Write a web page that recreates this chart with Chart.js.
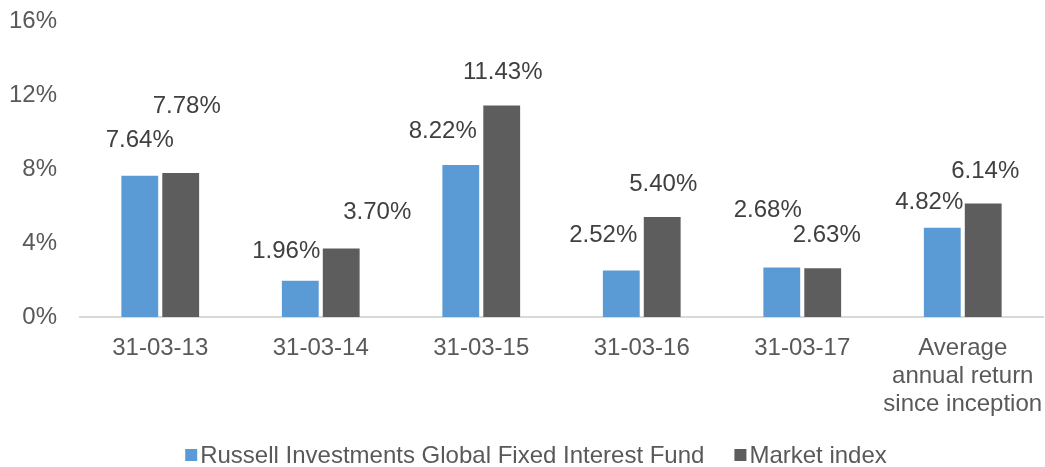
<!DOCTYPE html>
<html>
<head>
<meta charset="utf-8">
<script src="https://cdn.jsdelivr.net/npm/chart.js@4.4.0/dist/chart.umd.min.js"></script>
<style>
  html, body { margin: 0; padding: 0; background: #fff; }
  #wrap { width: 1045px; height: 467px; }
</style>
</head>
<body>
<div id="wrap"><canvas id="myChart" width="1045" height="467"></canvas></div>
<script>
const categories = ["31-03-13", "31-03-14", "31-03-15", "31-03-16", "31-03-17", ["Average", "annual return", "since inception"]];
const fundValues = [7.64, 1.96, 8.22, 2.52, 2.68, 4.82];
const marketValues = [7.78, 3.70, 11.43, 5.40, 2.63, 6.14];
const seriesNames = ["Russell Investments Global Fixed Interest Fund", "Market index"];
const yTicks = [0, 4, 8, 12, 16];

const FONT = "'Liberation Sans', Arial, sans-serif";

// label nudges (dx, dy from bar top) - labels in the original were dragged around by hand
const labelNudge = [
  [[0, -35], [6, -67]],
  [[-14, -29], [36, -36]],
  [[-18, -34], [1, -33]],
  [[-18, -35], [1, -33]],
  [[-14, -57], [4, -33]],
  [[-13, -25], [2, -32]]
];

const valueLabels = {
  id: "valueLabels",
  afterDatasetsDraw(chart) {
    const { ctx } = chart;
    ctx.save();
    ctx.font = "24px " + FONT;
    ctx.fillStyle = "#404040";
    ctx.textAlign = "center";
    ctx.textBaseline = "middle";
    chart.data.datasets.forEach((ds, di) => {
      chart.getDatasetMeta(di).data.forEach((bar, i) => {
        const n = labelNudge[i][di];
        ctx.fillText(ds.data[i].toFixed(2) + "%", bar.x + n[0], bar.y + n[1]);
      });
    });
    ctx.restore();
  }
};

// excel style legend: small square, text right next to it
const bottomLegend = {
  id: "bottomLegend",
  afterDraw(chart) {
    const { ctx } = chart;
    const centerX = 536, y = 455, box = 12, gap = 3, spacing = 30;
    ctx.save();
    ctx.font = "24px " + FONT;
    ctx.textBaseline = "middle";
    ctx.textAlign = "left";
    const items = chart.data.datasets.map(ds => ({ text: ds.label, color: ds.backgroundColor, w: ctx.measureText(ds.label).width }));
    let total = items.reduce((s, it) => s + box + gap + it.w, 0) + spacing * (items.length - 1);
    let x = centerX - total / 2;
    items.forEach(it => {
      ctx.fillStyle = it.color;
      ctx.fillRect(x, y - box / 2, box, box);
      x += box + gap;
      ctx.fillStyle = "#595959";
      ctx.fillText(it.text, x, y + 1);
      x += it.w + spacing;
    });
    ctx.restore();
  }
};

new Chart(document.getElementById("myChart"), {
  type: "bar",
  data: {
    labels: categories,
    datasets: [
      { label: seriesNames[0], data: fundValues, backgroundColor: "#5B9BD5" },
      { label: seriesNames[1], data: marketValues, backgroundColor: "#5D5D5D" }
    ]
  },
  options: {
    responsive: false,
    animation: false,
    layout: { padding: { top: 21, right: 2, left: 0, bottom: 0 } },
    datasets: { bar: { categoryPercentage: 0.51, barPercentage: 0.9 } },
    scales: {
      x: {
        afterFit: (axis) => { axis.height = 150; axis.paddingRight = 0; axis.paddingLeft = 0; },
        grid: { display: false },
        border: { display: true, color: "#D9D9D9", width: 2 },
        ticks: { color: "#595959", font: { family: FONT, size: 24, lineHeight: 1.15 }, maxRotation: 0, autoSkip: false, padding: 10 }
      },
      y: {
        min: 0, max: 16,
        afterFit: (axis) => { axis.width = 80; axis.paddingTop = 0; axis.paddingBottom = 0; },
        afterBuildTicks: (axis) => { axis.ticks = yTicks.map(v => ({ value: v })); },
        grid: { display: false },
        border: { display: false },
        ticks: { color: "#595959", font: { family: FONT, size: 24 }, padding: 15, callback: v => v + "%" }
      }
    },
    plugins: {
      legend: { display: false },
      tooltip: { enabled: false }
    }
  },
  plugins: [valueLabels, bottomLegend]
});
</script>
</body>
</html>
